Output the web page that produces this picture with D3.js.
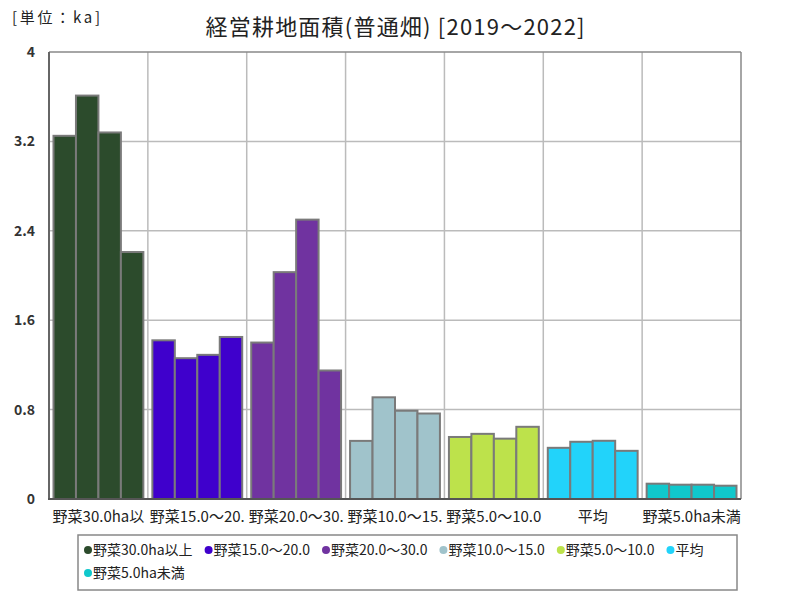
<!DOCTYPE html>
<html><head><meta charset="utf-8">
<script src="https://cdn.jsdelivr.net/npm/d3@7/dist/d3.min.js"></script>
<style>body{margin:0;background:#fff;} svg{font-family:"Noto Sans CJK JP","Noto Sans",sans-serif;}</style>
</head><body><svg id="c" width="800" height="600"></svg>
<script>
const categories = ["野菜30.0ha以上","野菜15.0～20.0","野菜20.0～30.0","野菜10.0～15.0","野菜5.0～10.0","平均","野菜5.0ha未満"];
const years = ["2019","2020","2021","2022"];
const values = [
  [3.25, 3.61, 3.28, 2.21],
  [1.42, 1.26, 1.29, 1.45],
  [1.40, 2.03, 2.50, 1.15],
  [0.52, 0.91, 0.79, 0.765],
  [0.555, 0.583, 0.54, 0.646],
  [0.458, 0.512, 0.521, 0.431],
  [0.137, 0.128, 0.128, 0.119]
];
const colors = ["#2c4b2c","#3f00cc","#7033a0","#a0c3cb","#bde24b","#22d3fa","#10c8cc"];
const yTicks = [0, 0.8, 1.6, 2.4, 3.2, 4];
const title = "経営耕地面積(普通畑) [2019～2022]";
const unit = "[単位：ka]";

const svg = d3.select("#c");
const L = 49, R = 741, T = 52, B = 499;
const x = d3.scaleBand().domain(categories).range([L, R]).padding(0);
const xi = d3.scaleBand().domain(years).range([4.5, x.bandwidth() - 4.5]).padding(0);
const y = d3.scaleLinear().domain([0, 4]).range([B, T]);

// title
svg.append("text").attr("x", 395).attr("y", 35).attr("text-anchor", "middle")
  .attr("font-size", 22).attr("fill", "#222")
  .attr("textLength", 379).attr("lengthAdjust", "spacing").text(title);
svg.append("text").attr("x", 12).attr("y", 23).attr("font-size", 15).attr("fill", "#222")
  .attr("textLength", 88).attr("lengthAdjust", "spacing").text(unit);

// grid
const g = svg.append("g");
g.selectAll("line.h").data(yTicks.filter(d => d > 0 && d < 4)).join("line")
  .attr("x1", L).attr("x2", R).attr("y1", d => y(d)).attr("y2", d => y(d))
  .attr("stroke", "#bbbbbb").attr("stroke-width", 1.5);
g.selectAll("line.v").data(categories.slice(1)).join("line")
  .attr("x1", d => x(d)).attr("x2", d => x(d)).attr("y1", T).attr("y2", B)
  .attr("stroke", "#bbbbbb").attr("stroke-width", 1.5);
// frame
g.append("line").attr("x1", L).attr("x2", R).attr("y1", T).attr("y2", T).attr("stroke", "#888").attr("stroke-width", 1.5);
g.append("line").attr("x1", R).attr("x2", R).attr("y1", T).attr("y2", B).attr("stroke", "#888").attr("stroke-width", 1.5);

// bars
categories.forEach((c, ci) => {
  svg.append("g").attr("transform", `translate(${x(c)},0)`)
    .selectAll("rect").data(values[ci]).join("rect")
    .attr("x", (d, i) => xi(years[i])).attr("width", xi.bandwidth())
    .attr("y", d => y(d)).attr("height", d => y(0) - y(d))
    .attr("fill", colors[ci]).attr("stroke", "#7a7a7a").attr("stroke-width", 2);
});

// axes lines
svg.append("line").attr("x1", L).attr("x2", L).attr("y1", T).attr("y2", B).attr("stroke", "#666").attr("stroke-width", 2);
svg.append("line").attr("x1", L - 1).attr("x2", R).attr("y1", B).attr("y2", B).attr("stroke", "#555").attr("stroke-width", 2);

// y tick labels
const yAxis = d3.axisLeft(y).tickValues(yTicks).tickSize(0).tickPadding(14).tickFormat(d => String(d));
const ya = svg.append("g").attr("transform", `translate(${L},0)`).call(yAxis);
ya.select(".domain").remove();
ya.selectAll("text").attr("font-size", 14).attr("font-weight", "bold").attr("fill", "#333")
  .attr("font-family", '"Noto Sans CJK JP",sans-serif');

// x labels (truncated to band width)
const xl = svg.append("g");
categories.forEach(c => {
  const t = xl.append("text").attr("x", x(c) + x.bandwidth() / 2).attr("y", 522)
    .attr("text-anchor", "middle").attr("font-size", 15).attr("fill", "#222").text(c);
  let s = c;
  while (t.node().getComputedTextLength() > x.bandwidth() + 2 && s.length > 1) {
    s = s.slice(0, -1); t.text(s);
  }
});

// legend
const lg = svg.append("g");
lg.append("rect").attr("x", 78).attr("y", 535).attr("width", 659).attr("height", 55)
  .attr("fill", "#fff").attr("stroke", "#888").attr("stroke-width", 1.5);
let lx = 88, ly = 550;
categories.forEach((c, ci) => {
  const it = lg.append("g");
  const tx = it.append("text").attr("x", 5).attr("y", 5).attr("font-size", 14).attr("fill", "#222").text(c);
  const w = tx.node().getComputedTextLength() + 5;
  if (lx + w > 730) { lx = 88; ly += 23; }
  it.attr("transform", `translate(${lx},${ly})`);
  it.insert("circle", "text").attr("cx", 0).attr("cy", 0).attr("r", 4).attr("fill", colors[ci]);
  lx += w + 16;
});
</script></body></html>
